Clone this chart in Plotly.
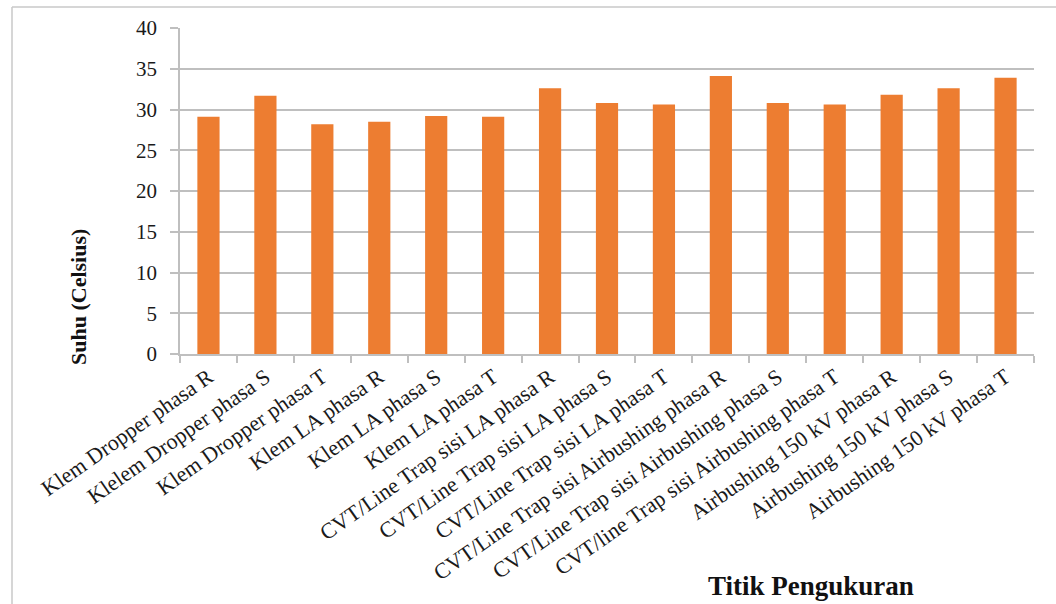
import plotly.graph_objects as go

# Measurement points and recorded temperatures
titik = [
    "Klem Dropper phasa R",
    "Klelem Dropper phasa S",
    "Klem Dropper phasa T",
    "Klem LA phasa R",
    "Klem LA phasa S",
    "Klem LA phasa T",
    "CVT/Line Trap sisi LA phasa R",
    "CVT/Line Trap sisi LA phasa S",
    "CVT/Line Trap sisi LA phasa T",
    "CVT/Line Trap sisi Airbushing phasa R",
    "CVT/Line Trap sisi Airbushing phasa S",
    "CVT/line Trap sisi Airbushing phasa T",
    "Airbushing 150 kV phasa R",
    "Airbushing 150 kV phasa S",
    "Airbushing 150 kV phasa T",
]
suhu = [29.1, 31.7, 28.2, 28.5, 29.2, 29.1, 32.6, 30.8, 30.6, 34.1,
        30.8, 30.6, 31.8, 32.6, 33.9]
y_ticks = [0, 5, 10, 15, 20, 25, 30, 35, 40]

SERIF = "Liberation Serif, Times New Roman, serif"
ORANGE = "#ED7D31"
GRID = "#BFBFBF"
FRAME = "#C8C8C8"

W, H = 1056, 604
ML, MR, MT, MB = 180, 22, 28, 250
pw, ph = W - ML - MR, H - MT - MB


def px_x(x):
    return (x - ML) / pw


def px_y(y):
    return (H - MB - y) / ph


fig = go.Figure(
    go.Bar(
        x=titik,
        y=suhu,
        marker=dict(color=ORANGE, line=dict(width=0)),
        hoverinfo="x+y",
    )
)

fig.update_layout(
    width=W,
    height=H,
    margin=dict(l=ML, r=MR, t=MT, b=MB),
    paper_bgcolor="white",
    plot_bgcolor="white",
    bargap=0.61,
    showlegend=False,
    font=dict(family=SERIF, color="#1a1a1a", size=18),
)

fig.update_xaxes(
    type="category",
    tickangle=-35,
    tickfont=dict(family=SERIF, size=22, color="#1a1a1a"),
    showline=True,
    linecolor=GRID,
    linewidth=1.5,
    ticks="outside",
    tickson="boundaries",
    ticklen=7,
    tickcolor=GRID,
    tickwidth=1.5,
    showgrid=False,
)

fig.update_yaxes(
    range=[0, 40],
    tickvals=y_ticks,
    tickfont=dict(family=SERIF, size=21, color="#1a1a1a"),
    ticklabelstandoff=9,
    showline=True,
    linecolor=GRID,
    linewidth=1.5,
    ticks="outside",
    ticklen=8,
    tickcolor=GRID,
    tickwidth=1.5,
    showgrid=True,
    gridcolor=GRID,
    gridwidth=1.5,
    zeroline=False,
)

# Chart frame: left and top edges
fig.add_shape(
    type="line", xref="paper", yref="paper",
    x0=px_x(12), x1=px_x(12), y0=px_y(7), y1=px_y(620),
    line=dict(color=FRAME, width=1.5), layer="above",
)
fig.add_shape(
    type="line", xref="paper", yref="paper",
    x0=px_x(12), x1=px_x(1070), y0=px_y(7), y1=px_y(7),
    line=dict(color=FRAME, width=1.5), layer="above",
)

# Axis titles
fig.add_annotation(
    text="<b>Suhu (Celsius)</b>",
    xref="paper", yref="paper",
    x=px_x(78), y=px_y(297),
    xanchor="center", yanchor="middle",
    textangle=-90,
    showarrow=False,
    font=dict(family=SERIF, size=22, color="#111111"),
)
fig.add_annotation(
    text="<b>Titik Pengukuran</b>",
    xref="paper", yref="paper",
    x=px_x(811), y=px_y(603),
    xanchor="center", yanchor="bottom",
    showarrow=False,
    font=dict(family=SERIF, size=27, color="#111111"),
)

fig.write_html("out.html")
